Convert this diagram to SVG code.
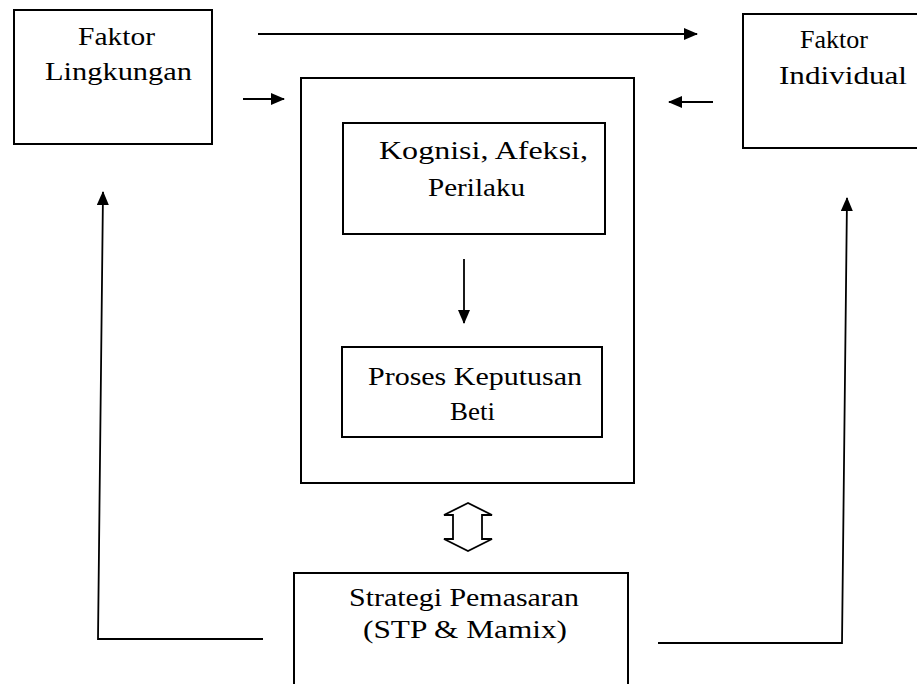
<svg xmlns="http://www.w3.org/2000/svg" width="917" height="684" viewBox="0 0 917 684">
<style>
.box{fill:none;stroke:#000;stroke-width:2}
.line{fill:none;stroke:#000;stroke-width:1.8}
text{font-family:"Liberation Serif","Times New Roman",serif;font-size:26px;fill:#000;text-anchor:middle}
</style>
<defs>
<marker id="ah" markerUnits="userSpaceOnUse" markerWidth="14" markerHeight="12" refX="13" refY="6" orient="auto">
<path d="M0,0 L14,6 L0,12 z" fill="#000"/>
</marker>
</defs>
<rect width="917" height="684" fill="#fff"/>
<g id="faktor-lingkungan">
<rect class="box" x="14" y="10" width="198" height="134"/>
<text x="116.5" y="45" textLength="77" lengthAdjust="spacingAndGlyphs">Faktor</text>
<text x="118.5" y="80" textLength="147" lengthAdjust="spacingAndGlyphs">Lingkungan</text>
</g>
<g id="faktor-individual">
<rect class="box" x="743" y="14" width="200" height="134"/>
<text x="834" y="48" textLength="68" lengthAdjust="spacingAndGlyphs">Faktor</text>
<text x="843" y="84" textLength="128" lengthAdjust="spacingAndGlyphs">Individual</text>
</g>
<g id="konsumen">
<rect class="box" x="301" y="78" width="333" height="405"/>
</g>
<g id="kognisi">
<rect class="box" x="343" y="123" width="262" height="111"/>
<text x="483.5" y="159" textLength="209" lengthAdjust="spacingAndGlyphs">Kognisi, Afeksi,</text>
<text x="476.5" y="196" textLength="97" lengthAdjust="spacingAndGlyphs">Perilaku</text>
</g>
<g id="proses">
<rect class="box" x="342" y="347" width="260" height="90"/>
<text x="475" y="385" textLength="214" lengthAdjust="spacingAndGlyphs">Proses Keputusan</text>
<text x="472.5" y="420" textLength="45" lengthAdjust="spacingAndGlyphs">Beti</text>
</g>
<g id="strategi">
<rect class="box" x="294" y="573" width="334" height="130"/>
<text x="464" y="606" textLength="230" lengthAdjust="spacingAndGlyphs">Strategi Pemasaran</text>
<text x="465" y="638" textLength="204" lengthAdjust="spacingAndGlyphs">(STP &amp; Mamix)</text>
</g>
<g id="connectors">
<path class="line" d="M258,34 H697" marker-end="url(#ah)"/>
<path class="line" d="M243,99 H284" marker-end="url(#ah)"/>
<path class="line" d="M713,102 H669" marker-end="url(#ah)"/>
<path class="line" d="M464,259 V323" marker-end="url(#ah)"/>
<path class="line" d="M263,639 H98 L103,192" marker-end="url(#ah)"/>
<path class="line" d="M658,643 H842 L847,198" marker-end="url(#ah)"/>
<path class="line" d="M468,503 L444,515 H453 V539 H444 L468,551 L492,539 H482 V515 H492 Z" fill="#fff"/>
</g>
</svg>
